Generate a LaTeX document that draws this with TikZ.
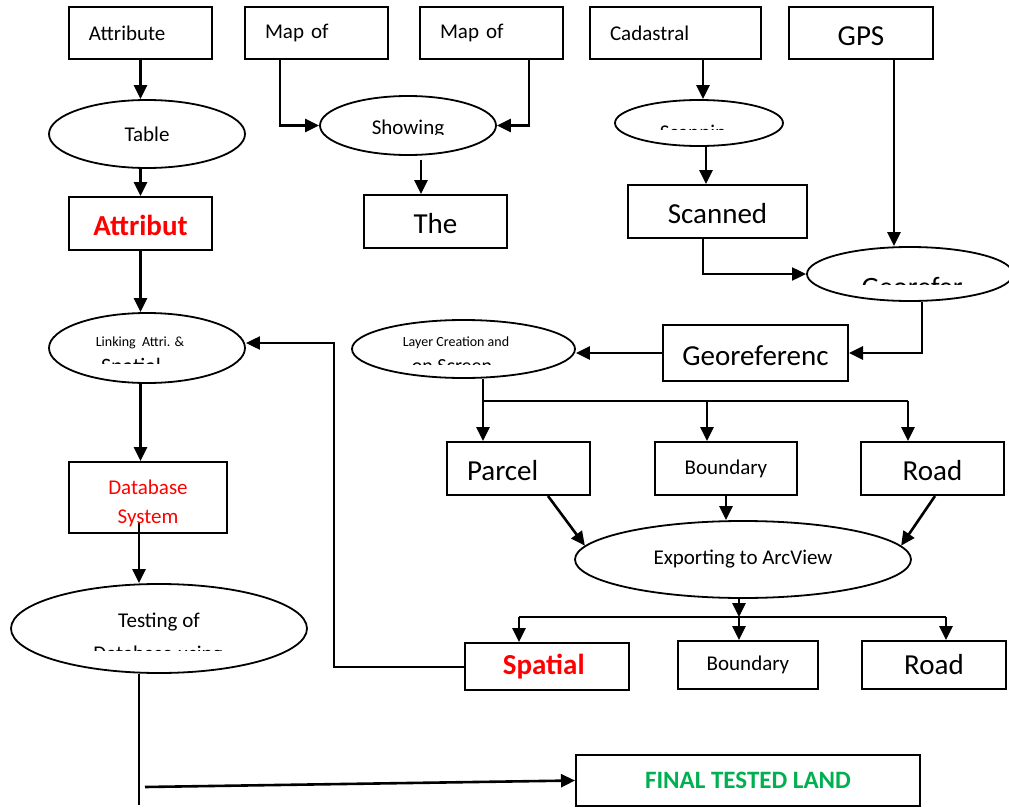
\documentclass[tikz,border=0pt]{standalone}
\usepackage{fontspec}
\setmainfont{Carlito}
\usetikzlibrary{shapes.geometric, arrows.meta}
\definecolor{titlered}{RGB}{255,0,0}
\definecolor{landgreen}{RGB}{0,176,80}
\newcommand\fsmall{\fontsize{7}{8.4}\selectfont}
\newcommand\fmid{\fontsize{10.5}{12.6}\selectfont}
\newcommand\fbig{\fontsize{14.5}{17.4}\selectfont}

\begin{document}
\begin{tikzpicture}[x=0.5pt, y=-0.5pt,
	box/.style={rectangle, draw, line width=1pt, inner sep=0pt, font=\fmid},
	leftbox/.style={box, inner xsep=10pt, text width=#1, align=left, minimum height=26pt},
	oval/.style={ellipse, draw, line width=0.9pt, inner sep=0pt, font=\fmid},
	cut/.style={anchor=base, inner sep=0pt},
	arr/.style={-{Triangle[length=7pt,width=6.5pt]}, line width=1.3pt},
	link/.style={line width=1pt}]
	\useasboundingbox (0,0) rectangle (1009,809);

	% top row
	\node (attr) [leftbox=51.5pt] at (140.5,33) {Attribute};
	\node (mapa) [leftbox=51.5pt] at (316.5,33) {Map of};
	\node (mapb) [leftbox=51.5pt] at (491.5,33) {Map of};
	\node (cadas) [leftbox=65.5pt] at (675.5,33) {Cadastral};
	\node (gps) [box, font=\fbig, minimum width=72pt, minimum height=26pt] at (861,33) {\rule{0pt}{13pt}GPS};

	% second and third rows
	\node (table) [oval, minimum width=98pt, minimum height=34pt] at (147,134) {Table};
	\node (attribut) [box, font=\fbig\bfseries, text=titlered, minimum width=71.5pt, minimum height=26.5pt] at (140.5,223.5) {\rule{0pt}{12pt}Attribut};
	\node (showing) [oval, minimum width=88pt, minimum height=29.5pt] at (408,125.5) {};
	\node (the) [box, font=\fbig, minimum width=71.5pt, minimum height=26.5pt] at (435.5,221.5) {\rule{0pt}{12.5pt}The};
	\node (scan) [oval, minimum width=84pt, minimum height=23pt] at (699,123) {};
	\node (scanned) [box, font=\fbig, minimum width=89.5pt, minimum height=26.5pt] at (717.5,211.5) {\rule{0pt}{12pt}Scanned};
	\node (geor) [oval, minimum width=103pt, minimum height=27pt] at (910,274) {};

	% middle
	\node (georef) [box, font=\fbig, minimum width=92.5pt, minimum height=28pt] at (755.5,353) {\rule{0pt}{13pt}Georeferenc};
	\node (layer) [oval, minimum width=111.5pt, minimum height=29pt] at (463.5,349) {};
	\node (linking) [oval, minimum width=98pt, minimum height=35pt] at (147,348) {};
	\node (database) [box, text=titlered, align=center, font=\fontsize{10.5}{14.5}\selectfont, minimum width=79pt, minimum height=35.5pt] at (148,497.5) {\rule{0pt}{13.5pt}Database\\System};
	\node (testing) [oval, minimum width=148pt, minimum height=44.5pt] at (159,628.5) {};
	\node (parcel) [leftbox=51.5pt, font=\fbig, minimum height=26.5pt] at (518.5,468.5) {\rule{0pt}{12.5pt}Parcel};
	\node (bound) [box, minimum width=71pt, minimum height=26.5pt] at (726,468.5) {Boundary};
	\node (road) [box, font=\fbig, minimum width=71.5pt, minimum height=26.5pt] at (932.5,468.5) {\rule{0pt}{12.5pt}Road};
	\node (export) [oval, minimum width=168pt, minimum height=38.5pt] at (743,559.5) {Exporting to ArcView};

	% bottom
	\node (spatial) [box, font=\fbig\bfseries, text=titlered, minimum width=82pt, minimum height=23.5pt] at (547,666.5) {Spatial~~};
	\node (bound2) [box, minimum width=70pt, minimum height=24pt] at (748,665) {Boundary};
	\node (road2) [box, font=\fbig, minimum width=72pt, minimum height=24pt] at (934,665) {Road};
	\node (final) [box, font=\fontsize{12.5}{15}\selectfont\bfseries, text=landgreen, minimum width=172pt, minimum height=25.5pt] at (748,780.5) {FINAL TESTED LAND};

	% texts in the ovals
	\node (layertxt) [font=\fsmall] at (456,343) {Layer Creation and};
	\node (linktxt) [font=\fsmall] at (140,343) {Linking~ Attri. \&};
	\node (testtxt) [font=\fmid] at (159,622) {Testing of};
	\begin{scope}
		\clip (320,96) rectangle (496,134);
		\node (showtxt) [cut, font=\fmid] at (408,134.5) {Showing};
	\end{scope}
	\begin{scope}
		\clip (615,100) rectangle (783,129);
		\node (scantxt) [cut, font=\fmid] at (693,139.5) {Scannin};
	\end{scope}
	\begin{scope}
		\clip (807,247) rectangle (1009,284);
		\node (geortxt) [cut, font=\fontsize{14}{16.8}\selectfont] at (912,296) {Georefer};
	\end{scope}
	\begin{scope}
		\clip (352,320) rectangle (575,364);
		\node (layertxtb) [cut, font=\fontsize{10}{12}\selectfont] at (452,372.5) {on Screen};
	\end{scope}
	\begin{scope}
		\clip (49,313) rectangle (245,363);
		\node (linktxtb) [cut, font=\fontsize{11}{13.2}\selectfont] at (131,373.5) {Spatial};
	\end{scope}
	\begin{scope}
		\clip (11,584) rectangle (307,650);
		\node (testtxtb) [cut, font=\fmid] at (158,660.5) {Database using};
	\end{scope}

	% left column
	\draw[arr] (attr.south) -- (attr.south |- table.north);
	\draw[arr] (attr.south |- table.south) -- (attribut.north);
	\draw[arr] (attribut.south) -- (attribut.south |- linking.north);
	\draw[arr] (attribut.south |- linking.south) -- (attribut.south |- database.north);
	\draw[arr] ([xshift=-4.5pt,yshift=5.5pt]database.south) -- ([xshift=-10pt]testing.north);
	\coordinate (tend) at (139,805);
	\draw[link] ([xshift=-10pt]testing.south) -- (tend);
	\coordinate (fstart) at (145,787);
	\draw[arr] (fstart) -- (final.west);

	% maps
	\draw[arr] ([xshift=-18.25pt]mapa.south) |- (showing.west);
	\draw[arr] ([xshift=18.75pt]mapb.south) |- (showing.east);
	\draw[arr] ([xshift=6.5pt,yshift=-2pt]showing.south) -- ([xshift=-7.25pt]the.north);

	% cadastral and gps
	\draw[arr] ([xshift=13.75pt]cadas.south) -- ([xshift=13.75pt]cadas.south |- scan.north);
	\draw[arr] ([xshift=3.5pt]scan.south) -- ([xshift=3.5pt]scan.south |- scanned.north);
	\draw[arr, line width=1pt] ([xshift=-7.25pt]scanned.south) |- (geor.west);
	\draw[arr] ([xshift=16.5pt]gps.south) -- ([xshift=16.5pt]gps.south |- geor.north);
	\draw[arr] ([xshift=6pt]geor.south) |- (georef.east);
	\draw[arr] (georef.west) -- (georef.west -| layer.east);

	% layers
	\coordinate (br1) at (483,401);
	\coordinate (br2) at (707,401);
	\coordinate (br3) at (908,401);
	\draw[arr] ([xshift=9.75pt]layer.south) -- (br1 |- parcel.north);
	\draw[link] (br1) -- (br3);
	\draw[arr] (br2) -- (br2 |- bound.north);
	\draw[arr] (br3) -- (br3 |- road.north);
	\draw[arr] ([xshift=14.75pt]parcel.south) -- (export.175);
	\draw[arr] (bound.south) -- (bound.south |- export.north);
	\draw[arr] ([xshift=1.25pt]road.south) -- (export.5);

	% export
	\coordinate (sp1) at (519,617);
	\coordinate (sp2) at (739,617);
	\coordinate (sp3) at (946,617);
	\draw[arr] ([xshift=-2pt]export.south) -- (sp2);
	\draw[link] (sp1) -- (sp3);
	\draw[arr] (sp1) -- (sp1 |- spatial.north);
	\draw[arr] (sp2) -- (sp2 |- bound2.north);
	\draw[arr] (sp3) -- (sp3 |- road2.north);

	% feedback to linking
	\coordinate (fb) at (334,343);
	\draw[arr, line width=1pt] (spatial.west) -| (fb) -- (fb -| linking.east);
\end{tikzpicture}
\end{document}
